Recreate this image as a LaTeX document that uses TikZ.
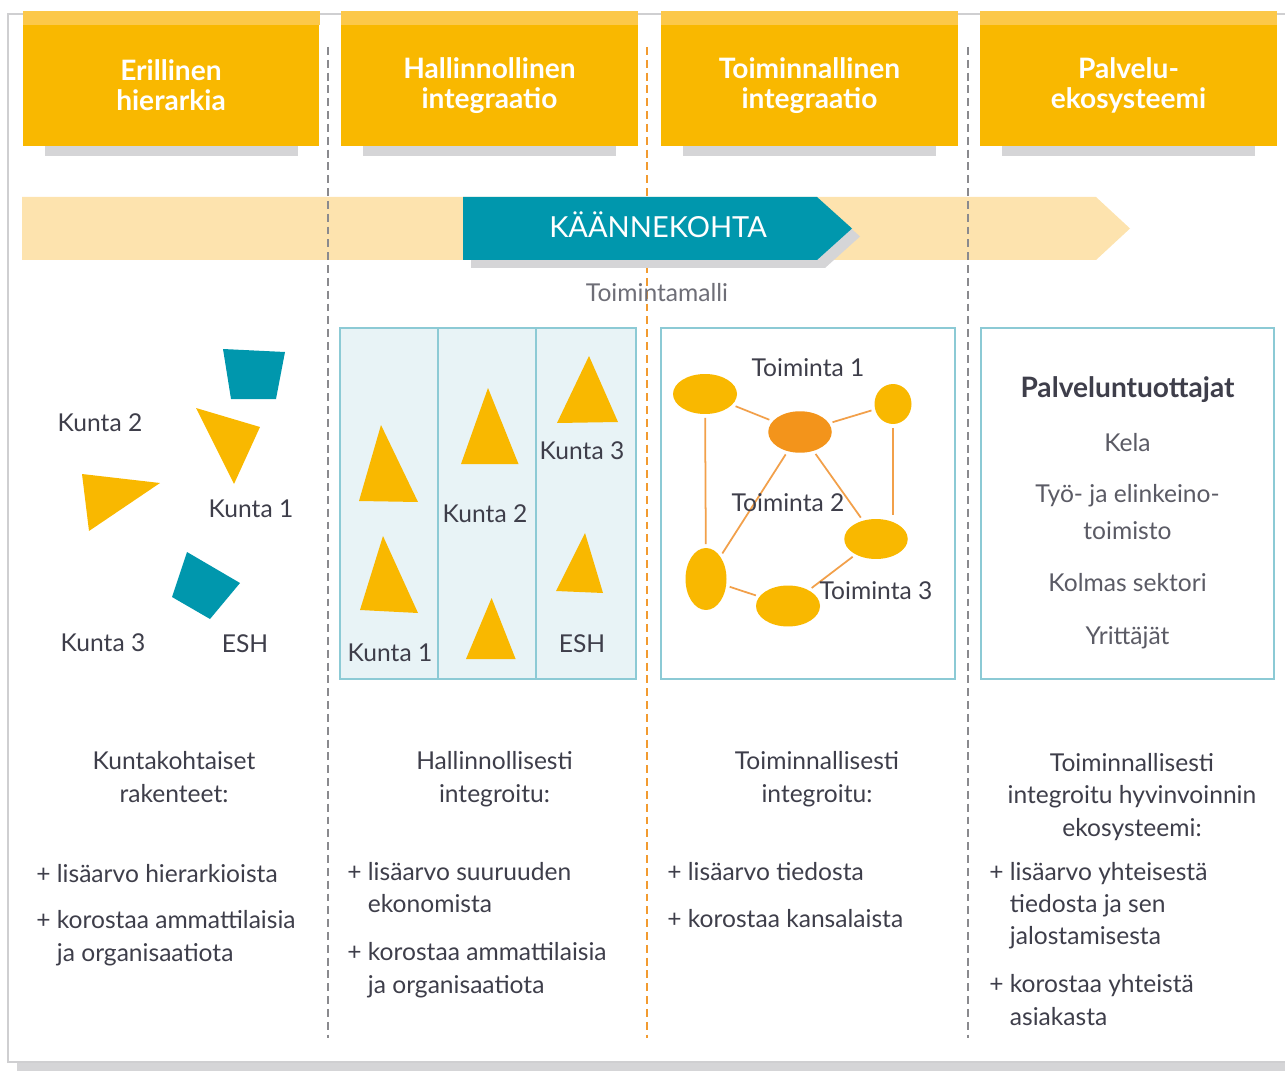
\documentclass[tikz,border=0pt]{standalone}
\usepackage{fontspec}
\setmainfont{Lato}
\usetikzlibrary{shapes.geometric,calc}

\definecolor{headyellow}{HTML}{F9B800}
\definecolor{headtop}{HTML}{FCC84A}
\definecolor{shadowgray}{HTML}{D5D5D7}
\definecolor{peach}{HTML}{FDE3AE}
\definecolor{tealc}{HTML}{0097AD}
\definecolor{dashorange}{HTML}{F29B30}
\definecolor{dashgray}{HTML}{8A8A8E}
\definecolor{paleblue}{HTML}{E8F3F6}
\definecolor{boxline}{HTML}{8CCAD5}
\definecolor{nodeorange}{HTML}{F3941B}
\definecolor{edgeorange}{HTML}{F2A04A}
\definecolor{textgray}{HTML}{3E3E4A}
\definecolor{framegray}{HTML}{CFCFD1}

\tikzset{
    header/.style={rectangle,fill=headyellow,text=white,inner sep=0pt,
        minimum width=5.94cm,minimum height=2.42cm,align=center,
        font=\fontsize{16}{17}\selectfont\bfseries},
    panel/.style={rectangle,draw=boxline,line width=1pt,inner sep=0pt,minimum height=7.02cm},
    lbl/.style={text=textgray,inner sep=0pt,anchor=base,font=\fontsize{14}{18.3}\selectfont},
    blob/.style={ellipse,inner sep=0pt},
    link/.style={edgeorange,line width=1pt,shorten >=2pt,shorten <=2pt},
    sepgray/.style={dashgray,line width=0.9pt,dash pattern=on 4.5pt off 2.8pt},
    seporange/.style={dashorange,line width=0.9pt,dash pattern=on 4.5pt off 2.8pt}
}

\begin{document}
\begin{tikzpicture}[x=0.02cm,y=-0.02cm]
    \useasboundingbox (0,0) rectangle (1285,1071);

    \draw[framegray,line width=1pt] (1290,14) -- (8,14) -- (8,1062) -- (1290,1062);
    \fill[shadowgray] (17,1063) rectangle (1290,1071);

    \node[header] (h1) at (171,85.5) {Erillinen\\hierarkia};
    \node[header] (h2) at (489.5,85.5) {Hallinnollinen\\integraatio};
    \node[header] (h3) at (809.5,85.5) {Toiminnallinen\\integraatio};
    \node[header] (h4) at (1128.5,85.5) {Palvelu-\\ekosysteemi};
    \foreach \hx in {171,489.5,809.5,1128.5}
    {
        \fill[headtop] (\hx-148.5,11) rectangle (\hx+148.5,25);
        \fill[shadowgray] (\hx-126.5,146) rectangle (\hx+126.5,156);
    }

    \fill[peach] (22,197) -- (1096,197) -- (1130,228.5) -- (1096,260) -- (22,260) -- cycle;
    \draw[sepgray] (328,47) -- (328,1038);
    \draw[sepgray] (968,47) -- (968,1038);
    \draw[seporange] (647,47) -- (647,1038);
    \fill[shadowgray] (471,205) -- (825,205) -- (860,236.5) -- (825,268) -- (471,268) -- cycle;
    \fill[tealc] (463,197) -- (817,197) -- (852,228.5) -- (817,260) -- (463,260) -- cycle;
    \node[lbl,text=white,font=\fontsize{16.5}{18}\selectfont] (turn) at (658,238) {KÄÄNNEKOHTA};
    \node[lbl,text=textgray!75] (malli) at (657,301) {Toimintamalli};

    % erillinen hierarkia
    \fill[tealc] (223,349) -- (285,352) -- (276,399) -- (231,399) -- cycle;
    \fill[headyellow] (196,408) -- (260,427) -- (234,484) -- cycle;
    \fill[headyellow] (82,474) -- (160,483) -- (89,531) -- cycle;
    \fill[tealc] (187,552) -- (240,583) -- (210,619) -- (172,597) -- cycle;
    \node[lbl] (ek2) at (100,431) {Kunta 2};
    \node[lbl] (ek1) at (251,517) {Kunta 1};
    \node[lbl] (ek3) at (103,651) {Kunta 3};
    \node[lbl] (eesh) at (245,652) {ESH};

    % hallinnollinen integraatio
    \node[panel,fill=paleblue,minimum width=5.92cm] (kbox) at (488,503.5) {};
    \draw[boxline,line width=1pt] (438,328) -- (438,679);
    \draw[boxline,line width=1pt] (536,328) -- (536,679);
    \foreach \ax/\ay/\bx/\by/\cx/\cy in{
    381/425/359/501/418/502,
    383/536/360/610/418/613,
    488/388/461/464/518.5/464,
    491.6/598/466/659/515.6/659,
    589/356/557/423/618/422,
    585/533/556/591/603/593}
    {
        \fill[headyellow] (\ax,\ay) -- (\bx,\by) -- (\cx,\cy) -- cycle;
    }
    \node[lbl] (hk3) at (582,459) {Kunta 3};
    \node[lbl] (hk2) at (485,522) {Kunta 2};
    \node[lbl] (hk1) at (390,661) {Kunta 1};
    \node[lbl] (hesh) at (582,652) {ESH};

    % toiminnallinen integraatio
    \node[panel,fill=white,minimum width=5.88cm] (tbox) at (808,503.5) {};
    \foreach \tn/\tx/\ty/\tw/\tht/\tcol in{
    1/705/394/1.28/0.8/headyellow,
    2/800/432/1.27/0.83/nodeorange,
    3/893/404/0.74/0.8/headyellow,
    4/876/539/1.27/0.8/headyellow,
    5/706/579/0.82/1.24/headyellow,
    6/788/606/1.28/0.82/headyellow}
    {
        \node[blob,fill=\tcol,minimum width=\tw cm,minimum height=\tht cm] (t\tn) at (\tx,\ty) {};
    }
    \draw[link] (t1) -- (t2);
    \draw[link] (t2) -- (t3);
    \draw[link] (t1) -- (t5);
    \draw[link] (t3) -- (t3 |- t4.north);
    \draw[link] (t2) -- (t4);
    \draw[link] (t2) -- (t5);
    \draw[link] (t5) -- (t6);
    \draw[link] (t6) -- (t4);
    \node[lbl] (tl1) at (808,377) {Toiminta 1};
    \node[lbl] (tl2) at (788,511) {Toiminta 2};
    \node[lbl] (tl3) at (876,599) {Toiminta 3};

    % palveluekosysteemi
    \node[panel,fill=white,minimum width=5.86cm] (pbox) at (1127.5,503.5) {};
    \node[lbl,font=\fontsize{16}{18}\selectfont\bfseries] (ptitle) at (1127.5,398) {Palveluntuottajat};
    \node[lbl,text=textgray!85] (p1) at (1127.5,451) {Kela};
    \node[lbl,text=textgray!85] (p2) at (1127.5,502) {Työ- ja elinkeino-};
    \node[lbl,text=textgray!85] (p3) at (1127.5,539) {toimisto};
    \node[lbl,text=textgray!85] (p4) at (1127.5,591) {Kolmas sektori};
    \node[lbl,text=textgray!85] (p5) at (1127.5,644) {Yrittäjät};

    % alaosan tekstit (base = viimeisen rivin perusviiva)
    \node[lbl,align=center] (s1) at (174,802) {Kuntakohtaiset\\rakenteet:};
    \node[lbl,align=center] (s2) at (494.5,802) {Hallinnollisesti\\integroitu:};
    \node[lbl,align=center] (s3) at (817,802) {Toiminnallisesti\\integroitu:};
    \node[lbl,align=center] (s4) at (1132,836) {Toiminnallisesti\\integroitu hyvinvoinnin\\ekosysteemi:};
    \node[lbl,align=left,anchor=base west] (b1) at (36,961)
        {+ lisäarvo hierarkioista\\[8pt]+ korostaa ammattilaisia\\\phantom{+ }ja organisaatiota};
    \node[lbl,align=left,anchor=base west] (b2) at (347,993)
        {+ lisäarvo suuruuden\\\phantom{+ }ekonomista\\[9pt]+ korostaa ammattilaisia\\\phantom{+ }ja organisaatiota};
    \node[lbl,align=left,anchor=base west] (b3) at (667,927)
        {+ lisäarvo tiedosta\\[8pt]+ korostaa kansalaista};
    \node[lbl,align=left,anchor=base west] (b4) at (989,1025)
        {+ lisäarvo yhteisestä\\\phantom{+ }tiedosta ja sen\\\phantom{+ }jalostamisesta\\[9pt]+ korostaa yhteistä\\\phantom{+ }asiakasta};
\end{tikzpicture}
\end{document}
